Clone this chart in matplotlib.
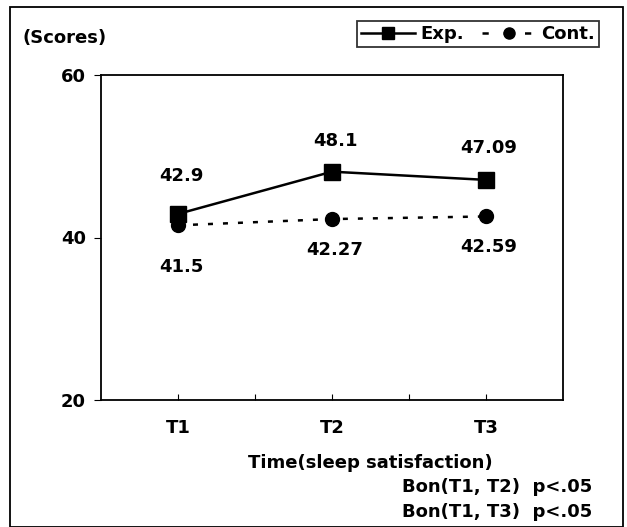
import matplotlib
matplotlib.use("Agg")
import matplotlib.pyplot as plt
from matplotlib.patches import Rectangle

plt.rcParams['font.family'] = ['DejaVu Sans']
plt.rcParams['font.weight'] = 'bold'

# données
times = ["T1", "T2", "T3"]
exp_scores = [42.9, 48.1, 47.09]
cont_scores = [41.5, 42.27, 42.59]
exp_labels = ["42.9", "48.1", "47.09"]
cont_labels = ["41.5", "42.27", "42.59"]
y_ticks = [20, 40, 60]
notes = ["Bon(T1, T2)  p<.05", "Bon(T1, T3)  p<.05"]

fig = plt.figure(figsize=(6.27, 5.27), dpi=100)
ax = fig.add_axes([101/627, 1 - 400/527, 462/627, 325/527])

x = list(range(1, len(times) + 1))
ax.plot(x, exp_scores, color='black', lw=1.8, marker='s', ms=11, label='Exp.')
ax.plot(x, cont_scores, color='black', lw=1.8, ls=(0, (2, 4)), marker='o', ms=10,
        label='Cont.')

# étiquettes des valeurs
exp_off = [38, 31, 32]
cont_off = [-42, -31, -31]
for i in range(len(times)):
    ax.annotate(exp_labels[i], (x[i], exp_scores[i]), xytext=(3, exp_off[i]),
                textcoords='offset pixels', ha='center', va='center', fontsize=13,
                fontweight='bold')
    ax.annotate(cont_labels[i], (x[i], cont_scores[i]), xytext=(3, cont_off[i]),
                textcoords='offset pixels', ha='center', va='center', fontsize=13,
                fontweight='bold')

ax.set_xlim(0.5, 3.5)
ax.set_ylim(20, 60)
ax.set_xticks([1, 1.5, 2, 2.5, 3])
ax.set_xticklabels(["T1", "", "T2", "", "T3"])
ax.tick_params(axis='x', direction='in', length=4, pad=14, labelsize=13)
ax.set_yticks(y_ticks)
ax.tick_params(axis='y', direction='out', length=5, pad=6, labelsize=13)
for sp in ax.spines.values():
    sp.set_linewidth(1.3)

fig.text(23/627, 1 - 38/527, "(Scores)", fontsize=13, fontweight='bold', va='center')
fig.text(370/627, 1 - 463/527, "Time(sleep satisfaction)", fontsize=13,
         fontweight='bold', ha='center', va='center')
for k, line in enumerate(notes):
    fig.text(592/627, 1 - (487 + 25 * k)/527, line, fontsize=13, fontweight='bold',
             ha='right', va='center')

leg = fig.legend(loc='center', bbox_to_anchor=(478/627, 1 - 34/527), ncol=2,
                 frameon=True, fancybox=False, edgecolor='black', fontsize=13,
                 handlelength=3.0, handletextpad=0.3, columnspacing=1.0,
                 markerscale=0.8, borderpad=0.2, borderaxespad=0)
leg.get_frame().set_linewidth(1.3)
leg.get_lines()[1].set_linestyle((0, (2.5, 6)))

# cadre extérieur
fig.patches.append(Rectangle((10/627, 0), 613/627, 1 - 7/527, transform=fig.transFigure,
                             fill=False, edgecolor='black', lw=1.3))

fig.savefig("out.png", dpi=100)
